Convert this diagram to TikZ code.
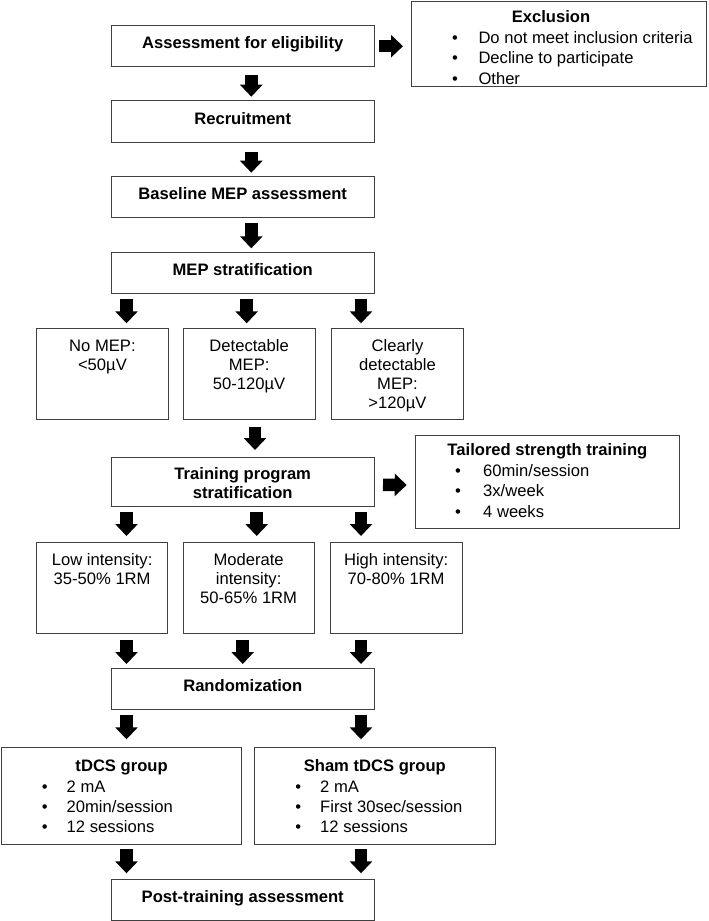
\documentclass[tikz,border=0pt]{standalone}
\usepackage{fontspec}
\setmainfont{Liberation Sans}
\usetikzlibrary{arrows.meta,fit}
\begin{document}
\begin{tikzpicture}[x=1pt,y=-1pt,
  box/.style={draw={rgb,255:red,64;green,64;blue,64}, line width=0.9pt, inner sep=0pt, outer sep=0pt},
  tx/.style={font=\fontsize{16.6}{19.5}\selectfont, inner sep=0pt, anchor=base},
  tb/.style={tx, font=\fontsize{16.6}{19.5}\selectfont\bfseries},
  lt/.style={tx, anchor=base west},
  blk/.style={draw=black, line width=12.5pt, -{Triangle[width=22pt,length=12pt]}}]
\useasboundingbox (0,0) rectangle (709,921);
\fill[white] (0,0) rectangle (709,921);

% boxes
\node[box, fit={(111,25.7) (374.5,66.7)}] (assess) {};
\node[box, fit={(411.7,1) (706.5,86.7)}] (excl) {};
\node[box, fit={(111,100.7) (374.5,142.3)}] (recr) {};
\node[box, fit={(111,176.7) (374.5,217.3)}] (basel) {};
\node[box, fit={(111,252.7) (374.5,293.3)}] (strat) {};
\node[box, fit={(36.6,328.3) (168.3,419.3)}] (mepA) {};
\node[box, fit={(183.3,328.3) (315,419.3)}] (mepB) {};
\node[box, fit={(331.7,328.3) (463.3,419.3)}] (mepC) {};
\node[box, fit={(111,457.7) (374.5,506)}] (train) {};
\node[box, fit={(415.7,435.7) (679,528.3)}] (tail) {};
\node[box, fit={(36.6,542.5) (167.7,633)}] (intA) {};
\node[box, fit={(183.3,542.5) (314,633)}] (intB) {};
\node[box, fit={(330,542.5) (462.3,633)}] (intC) {};
\node[box, fit={(111,668.3) (374.5,709.3)}] (rand) {};
\node[box, fit={(1.5,747.7) (241.7,844)}] (tdcs) {};
\node[box, fit={(254,747.7) (495.7,844)}] (sham) {};
\node[box, fit={(111,879.3) (374.5,920)}] (post) {};

% texts
\node[tb] at ([yshift=-2.5pt]assess.center) {Assessment for eligibility};
\node[tb] at ([yshift=-2.5pt]recr.center) {Recruitment};
\node[tb] at ([yshift=-2.5pt]basel.center) {Baseline MEP assessment};
\node[tb] at ([yshift=-2.5pt]strat.center) {MEP stratification};
\node[tb] at ([yshift=-2.5pt]rand.center) {Randomization};
\node[tb] at ([yshift=-2.5pt]post.center) {Post-training assessment};
\node[tb] at (242.75,479.3) {Training program};
\node[tb] at (242.75,498.7) {stratification};

\node[tb] at (551,22.7) {Exclusion};
\node[tx] at (455,43.2) {•};
\node[tx] at (455,63.7) {•};
\node[tx] at (455,84.2) {•};
\node[lt] at (478.3,43.2) {Do not meet inclusion criteria};
\node[lt] at (478.3,63.7) {Decline to participate};
\node[lt] at (478.3,84.2) {Other};

\node[tx] at (102.45,351) {No MEP:};
\node[tx] at (102.45,370.2) {<50µV};
\node[tx] at (249.15,351) {Detectable};
\node[tx] at (249.15,370.2) {MEP:};
\node[tx] at (249.15,389.4) {50-120µV};
\node[tx] at (397.5,351) {Clearly};
\node[tx] at (397.5,370.2) {detectable};
\node[tx] at (397.5,389.4) {MEP:};
\node[tx] at (397.5,408.6) {>120µV};

\node[tb] at (547.4,455.5) {Tailored strength training};
\node[tx] at (458,476) {•};
\node[tx] at (458,496.5) {•};
\node[tx] at (458,517) {•};
\node[lt] at (483,476) {60min/session};
\node[lt] at (483,496.5) {3x/week};
\node[lt] at (483,517) {4 weeks};

\node[tx] at (102.15,565.3) {Low intensity:};
\node[tx] at (102.15,584.5) {35-50\% 1RM};
\node[tx] at (248.65,565.3) {Moderate};
\node[tx] at (248.65,584.5) {intensity:};
\node[tx] at (248.65,603.7) {50-65\% 1RM};
\node[tx] at (396.15,565.3) {High intensity:};
\node[tx] at (396.15,584.5) {70-80\% 1RM};

\node[tb] at (121.6,771) {tDCS group};
\node[tx] at (44.8,792) {•};
\node[tx] at (44.8,812) {•};
\node[tx] at (44.8,832) {•};
\node[lt] at (66.5,792) {2 mA};
\node[lt] at (66.5,812) {20min/session};
\node[lt] at (66.5,832) {12 sessions};

\node[tb] at (374.8,771) {Sham tDCS group};
\node[tx] at (298.3,792) {•};
\node[tx] at (298.3,812) {•};
\node[tx] at (298.3,832) {•};
\node[lt] at (320,792) {2 mA};
\node[lt] at (320,812) {First 30sec/session};
\node[lt] at (320,832) {12 sessions};

% arrow columns
\coordinate (xc) at (251.3,0);
\coordinate (xl) at (126.5,0);
\coordinate (xr) at (361,0);
\coordinate (xm1) at (246.7,0);
\coordinate (xm2) at (255,0);
\coordinate (xm3) at (256.7,0);
\coordinate (xm4) at (242.7,0);

% arrows
\draw[blk] ([yshift=-8.3pt]assess.south -| xc) -- ([yshift=4pt]recr.north -| xc);
\draw[blk] ([yshift=-9.4pt]recr.south -| xc) -- ([yshift=4pt]basel.north -| xc);
\draw[blk] ([yshift=-5.7pt]basel.south -| xc) -- ([yshift=4.4pt]strat.north -| xc);
\draw[blk] ([yshift=-6pt]strat.south -| xl) -- ([yshift=5pt]mepA.north -| xl);
\draw[blk] ([yshift=-6pt]strat.south -| xm1) -- ([yshift=5pt]mepB.north -| xm1);
\draw[blk] ([yshift=-6pt]strat.south -| xr) -- ([yshift=5pt]mepC.north -| xr);
\draw[blk] ([yshift=-7.4pt]mepB.south -| xm2) -- ([yshift=7.7pt]train.north -| xm2);
\draw[blk] ([yshift=-5.7pt]train.south -| xl) -- ([yshift=6.5pt]intA.north -| xl);
\draw[blk] ([yshift=-5.7pt]train.south -| xm3) -- ([yshift=6.5pt]intB.north -| xm3);
\draw[blk] ([yshift=-5.7pt]train.south -| xr) -- ([yshift=6.5pt]intC.north -| xr);
\draw[blk] ([yshift=-7pt]intA.south -| xl) -- ([yshift=4.3pt]rand.north -| xl);
\draw[blk] ([yshift=-7pt]intB.south -| xm4) -- ([yshift=4.3pt]rand.north -| xm4);
\draw[blk] ([yshift=-7pt]intC.south -| xr) -- ([yshift=4.3pt]rand.north -| xr);
\draw[blk] ([yshift=-5.7pt]rand.south -| xl) -- ([yshift=8.4pt]tdcs.north -| xl);
\draw[blk] ([yshift=-5.7pt]rand.south -| xr) -- ([yshift=8.4pt]sham.north -| xr);
\draw[blk] ([yshift=-5.3pt]tdcs.south -| xl) -- ([yshift=6pt]post.north -| xl);
\draw[blk] ([yshift=-5.3pt]sham.south -| xr) -- ([yshift=6pt]post.north -| xr);
\draw[blk] ([xshift=4.5pt]assess.east) -- ([xshift=-8.7pt]excl.west |- assess.east);
\draw[blk] ([xshift=8.5pt,yshift=-3pt]train.east) -- ([xshift=-9pt,yshift=-3pt]tail.west);
\end{tikzpicture}
\end{document}
